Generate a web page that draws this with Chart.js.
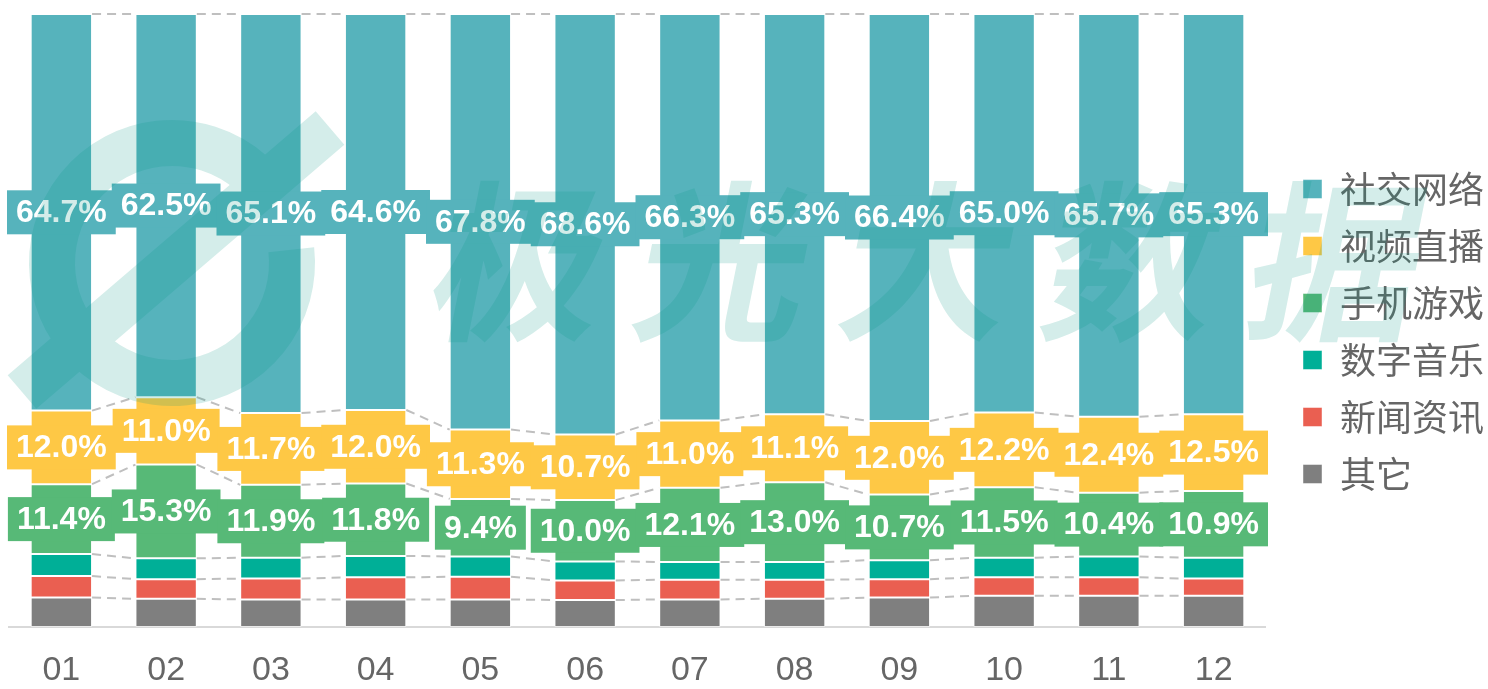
<!DOCTYPE html>
<html>
<head>
<meta charset="utf-8">
<script src="https://cdn.jsdelivr.net/npm/chart.js@4.4.1/dist/chart.umd.min.js"></script>
<style>
  html, body { margin: 0; padding: 0; background: #fff; }
</style>
</head>
<body>
<canvas id="c" width="1488" height="689"></canvas>
<script>
// months on the x axis
const months = ['01', '02', '03', '04', '05', '06', '07', '08', '09', '10', '11', '12'];

// share of each category per month, %
const other  = [4.8, 4.6, 4.5, 4.5, 4.5, 4.4, 4.5, 4.6, 4.8, 5.1, 5.1, 5.1];
const news   = [3.5, 3.2, 3.4, 3.6, 3.7, 3.2, 3.2, 3.1, 3.0, 3.0, 3.0, 2.8];
const music  = [3.6, 3.4, 3.4, 3.5, 3.3, 3.1, 2.9, 2.9, 3.1, 3.2, 3.4, 3.4];
const games  = [11.4, 15.3, 11.9, 11.8, 9.4, 10.0, 12.1, 13.0, 10.7, 11.5, 10.4, 10.9];
const video  = [12.0, 11.0, 11.7, 12.0, 11.3, 10.7, 11.0, 11.1, 12.0, 12.2, 12.4, 12.5];
const social = [64.7, 62.5, 65.1, 64.6, 67.8, 68.6, 66.3, 65.3, 66.4, 65.0, 65.7, 65.3];

const seriesNames  = ['其它', '新闻资讯', '数字音乐', '手机游戏', '视频直播', '社交网络'];
const seriesValues = [other, news, music, games, video, social];
const seriesColors = ['#7F7F7F', '#EA5F51', '#00AF97', '#57B977', '#FEC845', '#56B3BC'];
const labeledSeries = ['手机游戏', '视频直播', '社交网络'];

const datasets = seriesNames.map((name, i) => ({
  label: name,
  data: seriesValues[i],
  backgroundColor: seriesColors[i],
  borderColor: 'rgba(255,255,255,0.45)',
  borderWidth: 1,
  borderSkipped: false
}));

// dashed series lines between bars + value labels with coloured boxes
const barExtras = {
  id: 'barExtras',
  afterDatasetsDraw(chart) {
    const ctx = chart.ctx;
    ctx.save();
    ctx.strokeStyle = '#BFBFBF';
    ctx.lineWidth = 2;
    ctx.setLineDash([9, 6]);
    chart.data.datasets.forEach((ds, di) => {
      const bars = chart.getDatasetMeta(di).data;
      for (let i = 0; i < bars.length - 1; i++) {
        const a = bars[i], b = bars[i + 1];
        ctx.beginPath();
        ctx.moveTo(a.x + a.width / 2, a.y);
        ctx.lineTo(b.x - b.width / 2, b.y);
        ctx.stroke();
      }
    });
    ctx.setLineDash([]);

    ctx.font = 'bold 32px "Liberation Sans", Arial, sans-serif';
    ctx.textAlign = 'center';
    ctx.textBaseline = 'middle';
    chart.data.datasets.forEach((ds, di) => {
      if (!labeledSeries.includes(ds.label)) return;
      chart.getDatasetMeta(di).data.forEach((el, i) => {
        const txt = ds.data[i].toFixed(1) + '%';
        const cx = el.x;
        const cy = (el.y + el.base) / 2;
        const w = ctx.measureText(txt).width + 18;
        const h = 44;
        ctx.fillStyle = ds.backgroundColor;
        ctx.fillRect(cx - w / 2, cy - h / 2, w, h);
        ctx.fillStyle = '#FFFFFF';
        ctx.fillText(txt, cx, cy + 1);
      });
    });
    ctx.restore();
  },
  afterDraw(chart) {
    // faint watermark over the whole picture
    const off = document.createElement('canvas');
    off.width = chart.width;
    off.height = chart.height;
    const o = off.getContext('2d');
    o.fillStyle = '#009682';
    o.strokeStyle = '#009682';
    o.lineWidth = 46;
    o.beginPath();
    o.arc(172, 263, 120, -0.11, 5.44);
    o.stroke();
    o.lineWidth = 44;
    o.beginPath();
    o.moveTo(22, 392);
    o.lineTo(330, 128);
    o.stroke();
    const chars = ['极', '光', '大', '数', '据'];
    o.font = 'bold 172px "Noto Sans CJK SC"';
    o.textAlign = 'center';
    o.textBaseline = 'middle';
    chars.forEach((ch, k) => {
      o.save();
      o.translate(522 + k * 204, 262);
      o.transform(1, 0, -0.2, 1, 0, 0);
      o.fillText(ch, 0, 0);
      o.restore();
    });
    const ctx = chart.ctx;
    ctx.save();
    ctx.globalAlpha = 0.17;
    ctx.drawImage(off, 0, 0);
    ctx.restore();
  }
};

new Chart(document.getElementById('c'), {
  type: 'bar',
  data: { labels: months, datasets: datasets },
  options: {
    responsive: false,
    animation: false,
    layout: { padding: { left: 9, top: 14, right: -6, bottom: 0 } },
    datasets: { bar: { categoryPercentage: 1, barPercentage: 0.586 } },
    scales: {
      x: {
        stacked: true,
        grid: { display: false, drawTicks: false },
        border: { display: true, color: '#D9D9D9', width: 2 },
        ticks: {
          color: '#666666',
          padding: 23,
          font: { family: '"Liberation Sans", Arial, sans-serif', size: 34, lineHeight: 1.2 }
        },
        afterFit(s) { s.height = 62; }
      },
      y: {
        stacked: true,
        position: 'right',
        min: 0,
        max: 100,
        grid: { display: false, drawTicks: false },
        border: { display: false },
        ticks: { display: false },
        afterFit(s) { s.width = 16; }
      }
    },
    plugins: {
      tooltip: { enabled: false },
      legend: {
        position: 'right',
        reverse: true,
        fullSize: false,
        title: { display: true, text: ' ', font: { size: 10 }, padding: 5 },
        labels: {
          boxWidth: 19,
          boxHeight: 19,
          padding: 21,
          color: '#666666',
          font: { family: '"Noto Sans CJK SC", sans-serif', size: 36 }
        }
      }
    }
  },
  plugins: [barExtras]
});
</script>
</body>
</html>
